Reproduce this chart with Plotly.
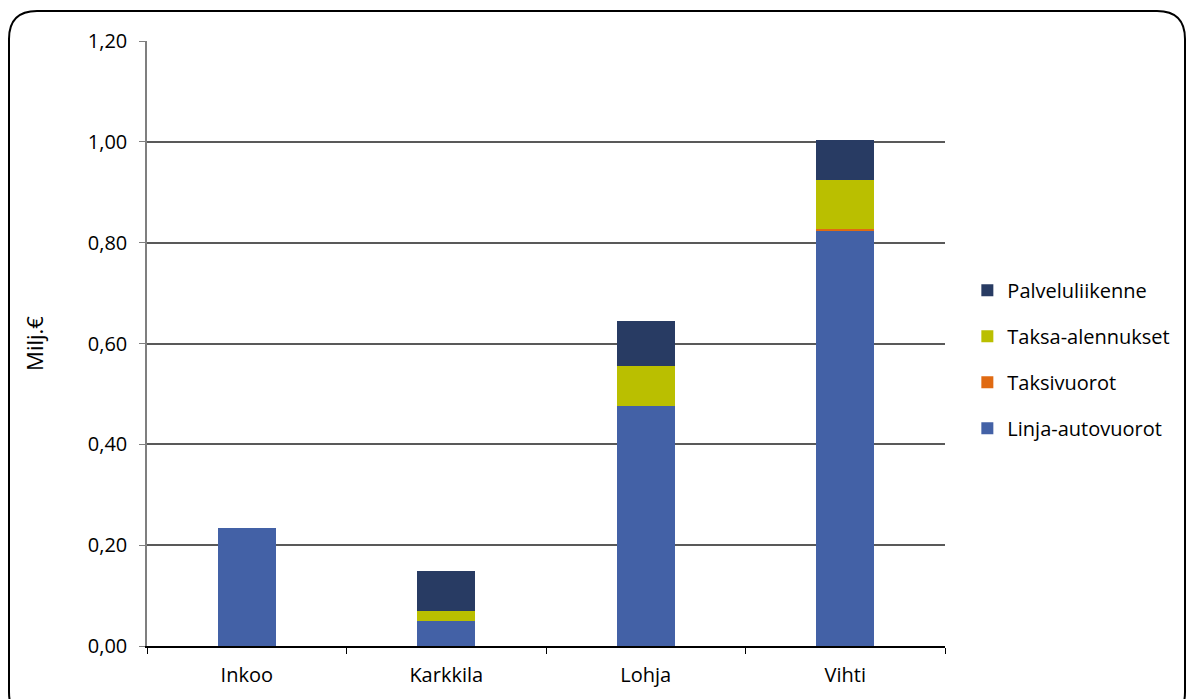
import plotly.graph_objects as go

categories = ["Inkoo", "Karkkila", "Lohja", "Vihti"]
linja_autovuorot = [0.234, 0.050, 0.476, 0.824]
taksivuorot = [0.0, 0.0, 0.0, 0.004]
taksa_alennukset = [0.0, 0.020, 0.080, 0.097]
palveluliikenne = [0.0, 0.079, 0.088, 0.078]
y_ticks = [0, 0.2, 0.4, 0.6, 0.8, 1.0, 1.2]

series = [
    ("Linja-autovuorot", linja_autovuorot, "#4361A6", 4),
    ("Taksivuorot", taksivuorot, "#E06A12", 3),
    ("Taksa-alennukset", taksa_alennukset, "#BABF00", 2),
    ("Palveluliikenne", palveluliikenne, "#283B63", 1),
]

W, H = 1192, 699
L, R, T, B = 147, 945, 41, 646

fig = go.Figure()
for name, vals, col, rank in series:
    fig.add_trace(go.Bar(
        x=categories, y=vals, name=name, marker_color=col,
        marker_line_width=0, width=0.29, legendgroup=name, legendrank=rank,
    ))

def px(x):
    return (x - L) / (R - L)

def py(y):
    return (B - y) / (B - T)

# rounded frame
x0, y0, x1, y1, r = 9, 11, 1185, 720, 28
path = (
    f"M {px(x0 + r)},{py(y0)} L {px(x1 - r)},{py(y0)} "
    f"Q {px(x1)},{py(y0)} {px(x1)},{py(y0 + r)} "
    f"L {px(x1)},{py(y1 - r)} "
    f"Q {px(x1)},{py(y1)} {px(x1 - r)},{py(y1)} "
    f"L {px(x0 + r)},{py(y1)} "
    f"Q {px(x0)},{py(y1)} {px(x0)},{py(y1 - r)} "
    f"L {px(x0)},{py(y0 + r)} "
    f"Q {px(x0)},{py(y0)} {px(x0 + r)},{py(y0)} Z"
)

fig.add_shape(type="path", path=path, xref="paper", yref="paper",
              line=dict(color="black", width=2), layer="above")

font_family = "Open Sans, Liberation Sans, sans-serif"

fig.update_layout(
    width=W, height=H,
    margin=dict(l=L, r=W - R, t=T, b=H - B),
    barmode="stack",
    plot_bgcolor="white", paper_bgcolor="white",
    separators=", ",
    font=dict(family=font_family, size=20, color="black"),
    showlegend=True,
    legend=dict(
        traceorder="grouped", tracegroupgap=17,
        x=1.028, y=0.474, xanchor="left", yanchor="middle",
        font=dict(size=20), itemwidth=30,
    ),
    xaxis=dict(
        showline=True, linecolor="black", linewidth=2,
        ticks="outside", tickson="boundaries", ticklen=6, tickcolor="black",
        tickfont=dict(size=20), showgrid=False, ticklabelstandoff=10,
    ),
    yaxis=dict(
        range=[0, 1.2], tickvals=y_ticks, tickformat=".2f",
        showline=True, linecolor="#7f7f7f", linewidth=1.5,
        ticks="outside", ticklen=6, tickcolor="#7f7f7f",
        showgrid=True, gridcolor="#595959", gridwidth=1.5,
        zeroline=False, tickfont=dict(size=20), ticklabelstandoff=8,
        title=dict(text="Milj.€", font=dict(size=22), standoff=38),
    ),
)

fig.write_html("out.html", post_script="document.body.style.margin='0';",
               config={"displayModeBar": False})
